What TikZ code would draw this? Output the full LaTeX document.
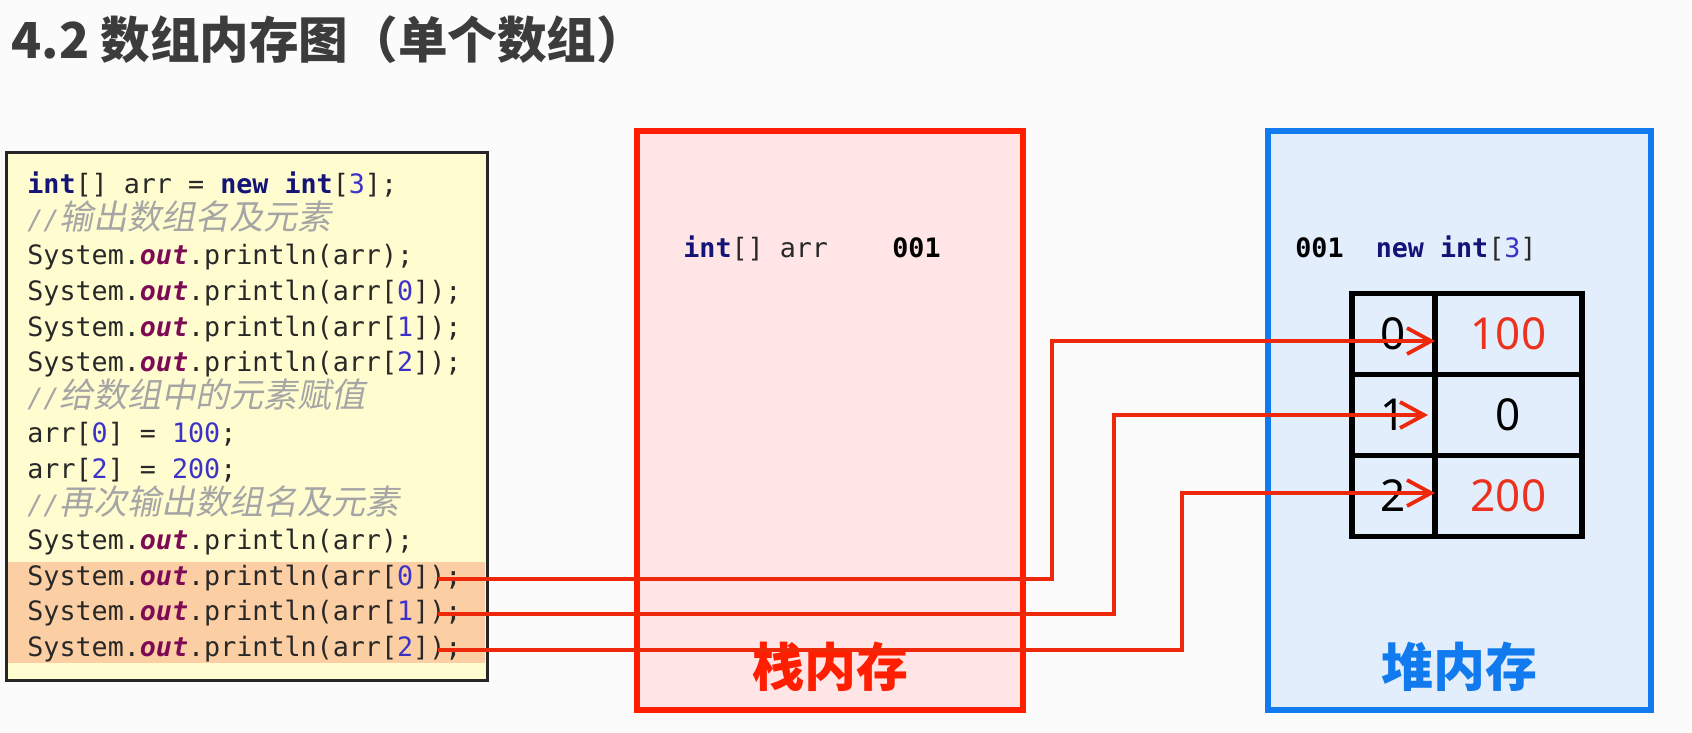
\documentclass[tikz,border=0pt]{standalone}
\usepackage{fontspec}
\setmonofont{DejaVu Sans Mono}
\newfontfamily\cjk{Noto Sans CJK SC}
\newfontfamily\cjkslant{Noto Sans CJK SC}[FakeSlant=0.2]
\newfontfamily\numfont{Noto Sans}
\usetikzlibrary{arrows.meta,positioning,fit}
\definecolor{pagebg}{RGB}{250,251,250}
\definecolor{titlegray}{RGB}{60,60,60}
\definecolor{codeink}{RGB}{40,40,40}
\definecolor{kwnavy}{RGB}{20,20,120}
\definecolor{numblue}{RGB}{60,50,200}
\definecolor{outpurple}{RGB}{125,10,85}
\definecolor{cmtgray}{RGB}{165,165,165}
\definecolor{codeyellow}{RGB}{255,253,208}
\definecolor{hlorange}{RGB}{252,206,164}
\definecolor{stackred}{RGB}{255,30,0}
\definecolor{stackpink}{RGB}{255,229,229}
\definecolor{heapblue}{RGB}{16,122,238}
\definecolor{heapfill}{RGB}{226,238,251}
\definecolor{arrowred}{RGB}{238,40,10}
\definecolor{valred}{RGB}{235,50,30}
\newcommand{\codefont}{\ttfamily\fontsize{13.35pt}{16pt}\selectfont}
\newcommand{\kw}[1]{{\bfseries\color{kwnavy}#1}}
\newcommand{\cnum}[1]{{\color{numblue}#1}}
\newcommand{\outf}{{\bfseries\itshape\color{outpurple}out}}
\newcommand{\cmt}[1]{{\color{cmtgray}\itshape //\cjkslant\fontsize{17pt}{17pt}\selectfont #1}}

\begin{document}
\begin{tikzpicture}[
    x=0.5pt, y=-0.5pt,
    title/.style={anchor=west, inner sep=0pt, text=titlegray,
                  font=\cjk\bfseries\fontsize{24.8pt}{24.8pt}\selectfont},
    codebox/.style={rectangle, draw=black!85, line width=1.5pt, fill=codeyellow, inner sep=0pt},
    hlband/.style={rectangle, fill=hlorange, inner sep=0pt},
    code/.style={anchor=west, inner sep=0pt, text height=10pt, text depth=3.35pt,
                 font=\codefont, text=codeink},
    stackbox/.style={rectangle, draw=stackred, line width=3.25pt, fill=stackpink, inner sep=0pt},
    heapbox/.style={rectangle, draw=heapblue, line width=3.25pt, fill=heapfill, inner sep=0pt},
    memlabel/.style={inner sep=0pt, font=\cjk\bfseries\fontsize{26pt}{26pt}\selectfont},
    cell/.style={rectangle, draw=black, line width=2.75pt, outer sep=0pt, inner sep=0pt,
                 minimum height=40.5pt, font=\numfont\fontsize{22pt}{22pt}\selectfont},
    idxcell/.style={cell, minimum width=41.5pt},
    valcell/.style={cell, minimum width=73.5pt},
    redarrow/.style={draw=arrowred, line width=1.9pt,
                     -{Straight Barb[length=12pt, width=13pt]}}
]
\fill[pagebg] (0,0) rectangle (1692,733);

% title
\node[title] (title) at (11,40) {4.2 数组内存图（单个数组）};

% code listing
\node[codebox, fit={(6,153) (487,680)}] (code) {};
\node[hlband, fit={(8,562) (485,663)}] (hl) {};
\node[code] (c1)  at (27,187)   {\kw{int}[] arr = \kw{new} \kw{int}[\cnum{3}];};
\node[code] (c2)  at (27,222.6) {\cmt{输出数组名及元素}};
\node[code] (c3)  at (27,258.2) {System.\outf.println(arr);};
\node[code] (c4)  at (27,293.8) {System.\outf.println(arr[\cnum{0}]);};
\node[code] (c5)  at (27,329.4) {System.\outf.println(arr[\cnum{1}]);};
\node[code] (c6)  at (27,365)   {System.\outf.println(arr[\cnum{2}]);};
\node[code] (c7)  at (27,400.6) {\cmt{给数组中的元素赋值}};
\node[code] (c8)  at (27,436.2) {arr[\cnum{0}] = \cnum{100};};
\node[code] (c9)  at (27,471.8) {arr[\cnum{2}] = \cnum{200};};
\node[code] (c10) at (27,507.4) {\cmt{再次输出数组名及元素}};
\node[code] (c11) at (27,543)   {System.\outf.println(arr);};
\node[code] (c12) at (27,578.6) {System.\outf.println(arr[\cnum{0}]);};
\node[code] (c13) at (27,614.2) {System.\outf.println(arr[\cnum{1}]);};
\node[code] (c14) at (27,649.8) {System.\outf.println(arr[\cnum{2}]);};

% stack
\node[stackbox, fit={(637,131) (1023,710)}] (stack) {};
\node[code] (stackvar) at (683,251) {\kw{int}[] arr\ \ \ \ {\bfseries\color{black}001}};
\node[memlabel, text=stackred] (stacklbl) at ([yshift=23pt]stack.south) {栈内存};

% heap
\node[heapbox, fit={(1268,131) (1651,710)}] (heap) {};
\node[code] (heapobj) at (1295,251) {{\bfseries\color{black}001}\ \ \kw{new} \kw{int}[\cnum{3}]};
\node[idxcell] (i0) at (1393.5,334) {0};
\node[valcell, right=0pt of i0, text=valred] (v0) {100};
\node[idxcell, below=0pt of i0] (i1) {1};
\node[valcell, right=0pt of i1] (v1) {0};
\node[idxcell, below=0pt of i1] (i2) {2};
\node[valcell, right=0pt of i2, text=valred] (v2) {200};
\node[memlabel, text=heapblue] (heaplbl) at ([yshift=23pt]heap.south) {堆内存};

% connectors
\coordinate (k0) at (1052,0);
\coordinate (k1) at (1114,0);
\coordinate (k2) at (1182,0);
\coordinate (t0) at ([yshift=-3.5pt]v0.west);
\coordinate (t2) at ([yshift=1.5pt]v2.west);
\draw[redarrow] ([xshift=-12pt]c12.east) -| (k0 |- t0) -- (t0);
\draw[redarrow, shorten >=3.5pt] ([xshift=-12pt]c13.east) -| (k1 |- v1.west) -- (v1.west);
\draw[redarrow] ([xshift=-12pt]c14.east) -| (k2 |- t2) -- (t2);

\end{tikzpicture}
\end{document}
